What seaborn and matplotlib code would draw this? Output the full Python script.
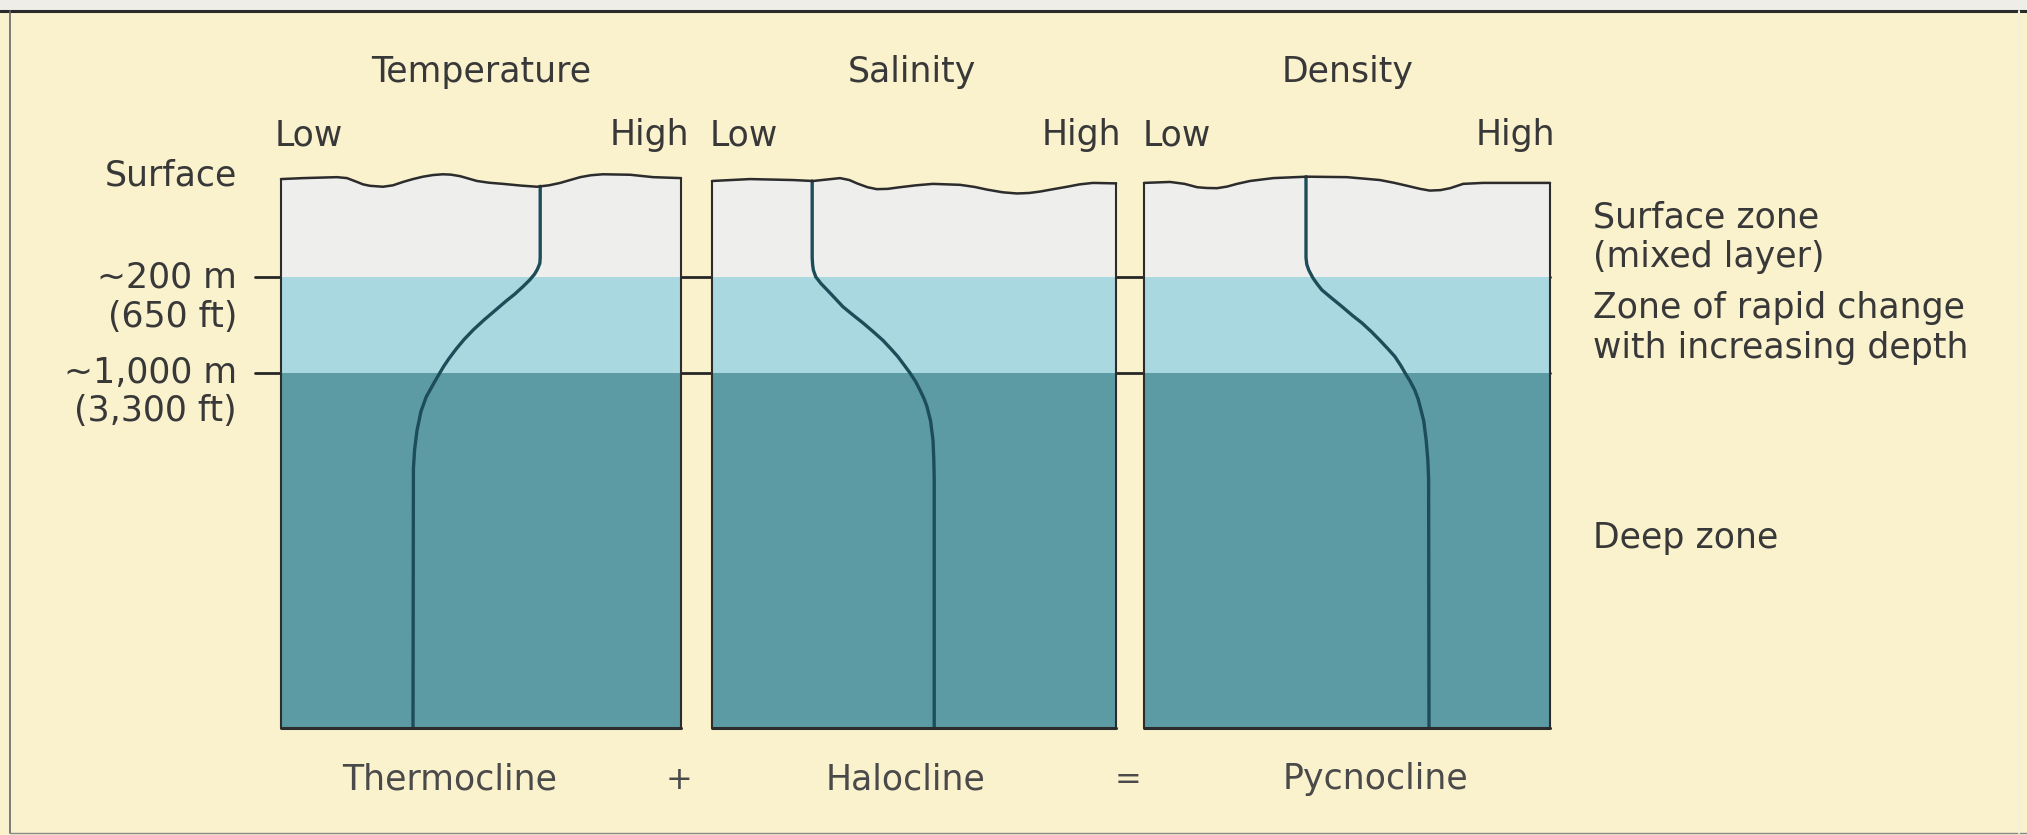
import numpy as np
import pandas as pd
import matplotlib
matplotlib.use("Agg")
import matplotlib.pyplot as plt
import matplotlib.transforms as mtransforms
import seaborn as sns

# ---------------- data ----------------
panel_titles = ["Temperature", "Salinity", "Density"]
bottom_labels = ["Thermocline", "Halocline", "Pycnocline"]
operators = ["+", "="]
axis_low, axis_high = "Low", "High"
depth_labels = ["Surface", "~200 m", "(650 ft)", "~1,000 m", "(3,300 ft)"]
zone_labels = ["Surface zone", "(mixed layer)", "Zone of rapid change",
               "with increasing depth", "Deep zone"]

# depth in diagram units: surface = 0, ~200 m = 1, ~1,000 m = 2, bottom = 5.7
zone_bounds = [1.0, 2.0]
depth_bottom = 5.70

temp_depth = [0.055, 0.80, 0.86, 0.92, 0.97, 1.03, 1.10, 1.18, 1.25, 1.35, 1.45, 1.55, 1.65,
              1.75, 1.85, 1.93, 2.00, 2.10, 2.25, 2.40, 2.60, 2.80, 3.00, 5.70]
temp_value = [0.648, 0.648, 0.647, 0.641, 0.634, 0.622, 0.605, 0.584, 0.563, 0.535, 0.507, 0.481, 0.458,
              0.438, 0.420, 0.407, 0.397, 0.383, 0.363, 0.350, 0.340, 0.334, 0.331, 0.330]

sal_depth = [0.0, 0.80, 0.87, 0.93, 1.00, 1.07, 1.135, 1.22, 1.31, 1.40, 1.48, 1.57, 1.66, 1.75,
             1.83, 1.92, 2.00, 2.09, 2.18, 2.27, 2.35, 2.50, 2.70, 2.90, 3.10, 5.70]
sal_value = [0.248, 0.248, 0.249, 0.251, 0.257, 0.270, 0.285, 0.304, 0.324, 0.350, 0.374, 0.399, 0.423, 0.443,
             0.460, 0.476, 0.490, 0.504, 0.515, 0.525, 0.532, 0.541, 0.547, 0.549, 0.550, 0.550]

dens_depth = [-0.045, 0.80, 0.87, 0.93, 1.01, 1.07, 1.135, 1.22, 1.31, 1.40, 1.48, 1.57, 1.66, 1.75,
              1.83, 1.92, 2.00, 2.09, 2.18, 2.27, 2.35, 2.50, 2.70, 2.90, 3.10, 5.70]
dens_value = [0.399, 0.399, 0.401, 0.406, 0.416, 0.426, 0.438, 0.462, 0.488, 0.513, 0.537, 0.560, 0.581, 0.601,
              0.618, 0.632, 0.643, 0.656, 0.667, 0.675, 0.680, 0.689, 0.695, 0.699, 0.701, 0.702]

# wavy sea surface of each panel (fraction across panel, depth units)
surf1_x = [0.0, 0.055, 0.140, 0.165, 0.19, 0.205, 0.222, 0.255, 0.280, 0.305, 0.330, 0.355, 0.380, 0.405, 0.425,
           0.448, 0.49, 0.520, 0.555, 0.600, 0.64, 0.670, 0.698, 0.748, 0.775, 0.805, 0.873, 0.93, 1.0]
surf1_u = [-0.02, -0.03, -0.04, -0.03, 0.01, 0.035, 0.05, 0.06, 0.045, 0.01, -0.02, -0.045, -0.062, -0.07, -0.066,
           -0.05, 0.0, 0.018, 0.03, 0.048, 0.06, 0.045, 0.02, -0.04, -0.060, -0.07, -0.065, -0.04, -0.03]
surf2_x = [0.0, 0.094, 0.200, 0.250, 0.317, 0.340, 0.359, 0.385, 0.408, 0.435, 0.465, 0.505, 0.547, 0.614,
           0.650, 0.681, 0.720, 0.755, 0.785, 0.812, 0.845, 0.879, 0.910, 0.943, 1.0]
surf2_u = [0.0, -0.02, -0.01, 0.0, -0.03, -0.01, 0.025, 0.065, 0.085, 0.082, 0.065, 0.045, 0.03, 0.04,
           0.062, 0.09, 0.118, 0.13, 0.125, 0.11, 0.085, 0.06, 0.035, 0.02, 0.025]
surf3_x = [0.0, 0.064, 0.100, 0.131, 0.155, 0.180, 0.205, 0.229, 0.261, 0.318, 0.401, 0.500, 0.581, 0.615,
           0.648, 0.680, 0.704, 0.730, 0.754, 0.786, 0.835, 1.0]
surf3_u = [0.02, 0.01, 0.03, 0.065, 0.073, 0.075, 0.058, 0.03, 0.0, -0.03, -0.045, -0.04, -0.01, 0.018,
           0.05, 0.082, 0.10, 0.095, 0.075, 0.03, 0.02, 0.02]

profiles = [(temp_value, temp_depth), (sal_value, sal_depth), (dens_value, dens_depth)]
surfaces = [(surf1_x, surf1_u), (surf2_x, surf2_u), (surf3_x, surf3_u)]

# ---------------- style ----------------
W, H = 2027, 835
BG = "#FAF1CD"
SURF_C = "#EEEFEC"
MID_C = "#A9D8E0"
DEEP_C = "#5D9BA4"
PROF_C = "#1C4D59"
EDGE_C = "#2C2C2C"
TXT_C = "#383838"
FS = 25

sns.set_theme(style="white")
plt.rcParams["font.family"] = ["DejaVu Sans"]

fig = plt.figure(figsize=(W / 100, H / 100), dpi=100)
fig.patch.set_facecolor(BG)

bg = fig.add_axes([0, 0, 1, 1])
bg.set_xlim(0, W)
bg.set_ylim(H, 0)
bg.axis("off")
bg.patch.set_alpha(0)

# scanned page frame
bg.axhspan(0, 10, color="#EEEDE7", zorder=0)
bg.plot([0, W], [11, 11], color="#2a2a2a", lw=2.2, zorder=1)
bg.plot([10, 10], [11, 833], color="#666666", lw=1.2, zorder=1)
bg.plot([10, W], [833, 833], color="#888888", lw=1.0, zorder=1)
bg.plot([2019, 2019], [11, 833], color="#F3F0E2", lw=1.5, zorder=1)

# panel layout in pixels
panel_px = [(281, 681), (712, 1116), (1144, 1550)]
top_px, bot_px = 160, 728
px_per_u = 96.0
u_top = (top_px - 181) / px_per_u

axes = []
for (l, r), (pv, pd_), (sx, su) in zip(panel_px, profiles, surfaces):
    ax = fig.add_axes([l / W, 1 - bot_px / H, (r - l) / W, (bot_px - top_px) / H])
    ax.set_xlim(0, 1)
    ax.set_ylim(depth_bottom, u_top)
    ax.axis("off")
    ax.patch.set_alpha(0)
    # zones
    ax.fill_between(sx, su, zone_bounds[0], color=SURF_C, lw=0, zorder=1)
    ax.fill_between([0, 1], zone_bounds[0], zone_bounds[1], color=MID_C, lw=0, zorder=1)
    ax.fill_between([0, 1], zone_bounds[1], depth_bottom, color=DEEP_C, lw=0, zorder=1)
    # outline
    ax.plot(sx, su, color=EDGE_C, lw=1.8, zorder=4, clip_on=False, solid_joinstyle="round")
    ax.plot([0, 0], [su[0], depth_bottom], color=EDGE_C, lw=1.5, zorder=4, clip_on=False)
    ax.plot([1, 1], [su[-1], depth_bottom], color=EDGE_C, lw=1.5, zorder=4, clip_on=False)
    ax.plot([0, 1], [depth_bottom, depth_bottom], color=EDGE_C, lw=2.2, zorder=4, clip_on=False)
    # profile
    df = pd.DataFrame({"value": pv, "depth": pd_})
    sns.lineplot(data=df, x="value", y="depth", orient="y", estimator=None,
                 color=PROF_C, lw=2.4, ax=ax, zorder=3, solid_joinstyle="round")
    ax.set_xlim(0, 1)
    ax.set_ylim(depth_bottom, u_top)
    ax.axis("off")
    axes.append(ax)

# zone boundary lines across all panels (x in pixels, y in depth units)
tr = mtransforms.blended_transform_factory(bg.transData, axes[0].transData)
for b in zone_bounds:
    bg.plot([255, panel_px[-1][1]], [b, b], transform=tr, color="#262626",
            lw=2.0, zorder=5, clip_on=False)

# ---------------- text ----------------
title_x = [481, 912, 1348]
for t, x in zip(panel_titles, title_x):
    bg.text(x, 82, t, ha="center", va="baseline", fontsize=FS, color=TXT_C)

low_x = [275, 710, 1143]
high_x = [689, 1121, 1555]
for lx, hx in zip(low_x, high_x):
    bg.text(lx, 145, axis_low, ha="left", va="baseline", fontsize=FS, color=TXT_C)
    bg.text(hx, 145, axis_high, ha="right", va="baseline", fontsize=FS, color=TXT_C)

left_y = [186, 287, 327, 383, 421]
for t, y in zip(depth_labels, left_y):
    bg.text(237, y, t, ha="right", va="baseline", fontsize=FS, color=TXT_C)

right_y = [228, 267, 318, 358, 548]
for t, y in zip(zone_labels, right_y):
    bg.text(1593, y, t, ha="left", va="baseline", fontsize=FS, color=TXT_C)

bottom_x = [450, 906, 1376]
for t, x in zip(bottom_labels, bottom_x):
    bg.text(x, 789, t, ha="center", va="baseline", fontsize=FS, color="#4a4a4a")
for t, x in zip(operators, [679, 1128]):
    bg.text(x, 789, t, ha="center", va="baseline", fontsize=FS - 2, color="#4a4a4a")

fig.savefig("out.png", dpi=100, facecolor=BG)
